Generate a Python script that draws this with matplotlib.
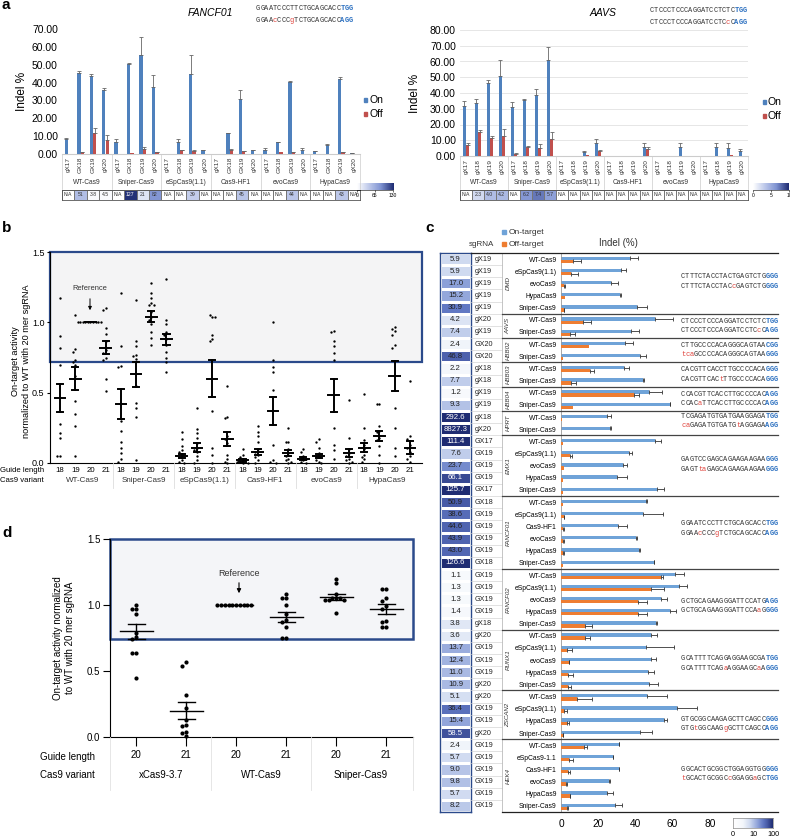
import matplotlib

matplotlib.use("Agg")

import matplotlib.pyplot as plt
import numpy as np
from matplotlib.colors import LinearSegmentedColormap, Normalize
from matplotlib.patches import Rectangle
from matplotlib.transforms import blended_transform_factory

# ---------------- panel a data ----------------
a_variants = ["WT-Cas9", "Sniper-Cas9", "eSpCas9(1.1)", "Cas9-HF1", "evoCas9", "HypaCas9"]
fancf_guides = ["gX17", "GX18", "GX19", "gX20"]
fancf_on = [8.5, 45.5, 43.5, 36.0, 6.5, 50.5, 55.5, 37.5, 0, 7.0, 45.0, 2.0,
            0, 11.5, 31.0, 2.0, 2.5, 6.5, 40.5, 2.5, 1.5, 5.0, 42.0, 0.5]
fancf_on_err = [0.5, 1.0, 1.5, 0.8, 2.0, 0.3, 10.0, 6.5, 0, 1.5, 10.5, 0.3,
                0, 0.3, 5.0, 0.3, 1.0, 0.5, 0.5, 1.0, 0.3, 0.5, 1.0, 0.2]
fancf_off = [0, 1.0, 11.5, 7.8, 0, 0.3, 3.0, 1.0, 0, 2.0, 1.5, 0,
             0, 2.5, 1.5, 0, 0, 1.0, 1.0, 0, 0, 0, 1.0, 0]
fancf_off_err = [0, 0.3, 3.3, 3.0, 0, 0, 0.8, 0.2, 0, 0.3, 0.8, 0,
                 0, 0.2, 0.3, 0, 0, 0, 0.2, 0, 0, 0, 0.2, 0]
fancf_heat = [None, 51, 3.8, 4.5, None, 127, 21, 82, None, None, 39, None,
              None, None, 45, None, None, None, 44, None, None, None, 43, None]

aavs_guides = ["gX17", "gX18", "gX19", "gX20"]
aavs_on = [32, 33.5, 46.5, 51, 31, 35.5, 38.5, 61, 0, 0, 2.5, 8,
           0, 0, 0, 5.5, 0, 0, 6, 0, 0, 6, 5, 3]
aavs_on_err = [3, 3, 1.5, 10, 3.5, 0.5, 4, 8.5, 0, 0, 0.5, 2.5,
               0, 0, 0, 3, 0, 0, 2.5, 0, 0, 2, 3.5, 1.5]
aavs_off = [7, 15, 11.5, 12.5, 1.5, 6, 5, 11, 0, 0, 0.5, 3,
            0, 0, 0, 4.5, 0, 0, 0, 0, 0, 0, 0.5, 0]
aavs_off_err = [1, 1.2, 1, 4.5, 0.3, 0.3, 2.5, 4.5, 0, 0, 0, 0.5,
                0, 0, 0, 1, 0, 0, 0, 0, 0, 0, 0, 0]
aavs_heat = [None, 2.3, 4.0, 4.2, None, 6.2, 7.4, 5.7, None, None, None, None,
             None, None, None, None, None, None, None, None, None, None, None, None]

# ---------------- panel b data ----------------
b_lengths = ["18", "19", "20", "21"]
b_points = [
    [1.17, 0.90, 0.82, 0.70, 0.28, 0.21, 0.18, 0.05, 0.05],
    [1.05, 0.81, 0.79, 0.73, 0.72, 0.70, 0.62, 0.44, 0.35, 0.26, 0.05],
    [1.0, 1.0, 1.0, 1.0, 1.0, 1.0, 1.0, 1.0, 1.0, 1.0],
    [1.10, 1.09, 0.96, 0.92, 0.87, 0.80, 0.78, 0.75, 0.73, 0.60, 0.51],
    [1.21, 0.83, 0.69, 0.68, 0.30, 0.23, 0.15, 0.11, 0.07, 0.03, 0.01],
    [1.16, 0.87, 0.83, 0.77, 0.76, 0.74, 0.55, 0.43, 0.39, 0.33, 0.02],
    [1.28, 1.21, 1.17, 1.14, 1.12, 1.12, 1.07, 1.04, 1.02, 0.99, 0.93, 0.89, 0.84],
    [1.31, 1.02, 0.99, 0.93, 0.91, 0.88, 0.84, 0.79, 0.75, 0.72, 0.65],
    [0.22, 0.17, 0.12, 0.09, 0.08, 0.06, 0.04, 0.02, 0.01, 0.0],
    [0.39, 0.24, 0.21, 0.18, 0.14, 0.11, 0.09, 0.08, 0.05, 0.02, 0.0],
    [1.04, 1.05, 1.04, 0.91, 0.88, 0.87, 0.37, 0.11, 0.06, 0.0],
    [0.55, 0.33, 0.32, 0.19, 0.17, 0.14, 0.06, 0.03, 0.01, 0.0],
    [0.10, 0.06, 0.04, 0.03, 0.02, 0.01, 0.01, 0.0, 0.0],
    [0.26, 0.22, 0.19, 0.15, 0.10, 0.08, 0.06, 0.04, 0.02, 0.0],
    [1.00, 0.73, 0.68, 0.65, 0.52, 0.13, 0.02, 0.01, 0.0],
    [0.25, 0.15, 0.15, 0.10, 0.07, 0.05, 0.03, 0.02, 0.01, 0.0],
    [0.10, 0.08, 0.05, 0.04, 0.03, 0.02, 0.01, 0.0],
    [0.17, 0.15, 0.11, 0.07, 0.05, 0.04, 0.02, 0.01, 0.0],
    [0.94, 0.93, 0.87, 0.83, 0.78, 0.73, 0.25, 0.13, 0.09, 0.03],
    [0.45, 0.18, 0.10, 0.07, 0.05, 0.03, 0.02, 0.01, 0.0],
    [0.49, 0.25, 0.16, 0.13, 0.10, 0.06, 0.04, 0.03, 0.01],
    [0.42, 0.42, 0.26, 0.23, 0.22, 0.18, 0.16, 0.12, 0.06, 0.0],
    [0.97, 0.95, 0.94, 0.91, 0.84, 0.82, 0.39, 0.25, 0.11, 0.05],
    [0.58, 0.19, 0.17, 0.13, 0.11, 0.08, 0.05, 0.03, 0.01],
]
b_mean = [0.46, 0.60, 1.00, 0.82, 0.42, 0.63, 1.04, 0.88, 0.05, 0.11, 0.60, 0.17,
          0.02, 0.08, 0.37, 0.07, 0.03, 0.05, 0.48, 0.07, 0.11, 0.19, 0.62, 0.11]
b_sem = [0.10, 0.08, 0.0, 0.045, 0.105, 0.09, 0.04, 0.04, 0.015, 0.03, 0.13, 0.05,
         0.01, 0.02, 0.10, 0.02, 0.01, 0.015, 0.115, 0.03, 0.035, 0.035, 0.105, 0.045]

# ---------------- panel d data ----------------
d_lengths = ["20", "21", "20", "21", "20", "21"]
d_variants = ["xCas9-3.7", "WT-Cas9", "Sniper-Cas9"]
d_points = [
    [1.00, 0.97, 0.97, 0.93, 0.79, 0.76, 0.74, 0.64, 0.64, 0.45],
    [0.57, 0.54, 0.32, 0.22, 0.13, 0.09, 0.08, 0.04, 0.03, 0.01],
    [1.0, 1.0, 1.0, 1.0, 1.0, 1.0, 1.0, 1.0, 1.0, 1.0],
    [1.08, 1.05, 1.05, 1.00, 0.93, 0.89, 0.87, 0.83, 0.75, 0.75],
    [1.20, 1.17, 1.08, 1.05, 1.05, 1.05, 1.04, 1.04, 1.04, 0.94],
    [1.12, 1.12, 1.05, 1.03, 0.99, 0.97, 0.88, 0.87, 0.83, 0.83],
]
d_mean = [0.80, 0.20, 1.00, 0.91, 1.06, 0.97]
d_sem = [0.055, 0.065, 0.0, 0.04, 0.02, 0.035]

# ---------------- panel c data ----------------
c_genes = ["DMD", "AAVS", "HBB02", "HBB03", "HBB04", "HPRT", "EMX1",
           "FANCF01", "FANCF02", "RUNX1", "ZSCAN2", "HEK4"]
c_sizes = [5, 2, 2, 2, 2, 2, 5, 6, 5, 5, 4, 6]
c_seqs = [
    ("CTTTCTACCTACTGAGTCTGGGG", "CTTTCTACCTACcGAGTCTGGGG"),
    ("CTCCCTCCCAGGATCCTCTCTGG", "CTCCCTCCCAGGATCCTCcCAGG"),
    ("CTTGCCCCACAGGGCAGTAACGG", "tcaGCCCCACAGGGCAGTAAGGG"),
    ("CACGTTCACCTTGCCCCACAGGG", "CACGTTCACtTTGCCCCACAGGG"),
    ("CCACGTTCACCTTGCCCCACAGG", "CCACaTTCACCTTGCCCCACAGG"),
    ("TCGAGATGTGATGAAGGAGATGG", "caGAGATGTGATGtAGGAGAAGG"),
    ("GAGTCCGAGCAGAAGAAGAAGGG", "GAGTtaGAGCAGAAGAAGAAGGG"),
    ("GGAATCCCTTCTGCAGCACCTGG", "GGAAcCCCgTCTGCAGCACCAGG"),
    ("GCTGCAGAAGGGATTCCATGAGG", "GCTGCAGAAGGGATTCCAaGGGG"),
    ("GCATTTTCAGGAGGAAGCGATGG", "GCATTTTCAGaAGGAAGCaAGGG"),
    ("GTGCGGCAAGAGCTTCAGCCGGG", "GTGtGGCAAGgGCTTCAGCCAGG"),
    ("GGCACTGCGGCTGGAGGTGGGGG", "tGCACTGCGGCcGGAGGaGCTGG"),
]
c_heat = [5.9, 5.9, 17.0, 15.2, 30.9,
          4.2, 7.4,
          2.4, 46.8,
          2.2, 7.7,
          1.2, 9.3,
          292.6, 8827.3,
          111.4, 7.6, 23.7, 66.1, 125.7,
          50.9, 38.6, 44.6, 43.9, 43.0, 126.6,
          1.1, 1.3, 1.3, 1.4, 3.8,
          3.6, 13.7, 12.4, 11.0, 10.9,
          5.1, 36.4, 15.4, 58.5,
          2.4, 5.7, 9.0, 9.8, 5.7, 8.2]
c_sgrna = ["gX19", "gX19", "gX19", "gX19", "gX19",
           "gX20", "gX19",
           "GX20", "GX20",
           "gX18", "gX18",
           "gX19", "gX19",
           "gX18", "gX20",
           "GX17", "GX19", "GX19", "GX19", "GX17",
           "GX18", "GX19", "GX19", "GX19", "GX19", "GX18",
           "GX19", "GX19", "GX19", "GX19", "gX18",
           "gX20", "GX19", "GX19", "GX19", "gX20",
           "gX20", "GX19", "GX19", "gX20",
           "GX19", "GX19", "GX19", "GX19", "GX19", "GX19"]
c_variant = ["WT-Cas9", "eSpCas9(1.1)", "evoCas9", "HypaCas9", "Sniper-Cas9",
             "WT-Cas9", "Sniper-Cas9",
             "WT-Cas9", "Sniper-Cas9",
             "WT-Cas9", "Sniper-Cas9",
             "WT-Cas9", "Sniper-Cas9",
             "WT-Cas9", "Sniper-Cas9",
             "WT-Cas9", "eSpCas9(1.1)", "evoCas9", "HypaCas9", "Sniper-Cas9",
             "WT-Cas9", "eSpCas9(1.1)", "Cas9-HF1", "evoCas9", "HypaCas9", "Sniper-Cas9",
             "WT-Cas9", "eSpCas9(1.1)", "evoCas9", "HypaCas9", "Sniper-Cas9",
             "WT-Cas9", "eSpCas9(1.1)", "evoCas9", "HypaCas9", "Sniper-Cas9",
             "WT-Cas9", "eSpCas9(1.1)", "HypaCas9", "Sniper-Cas9",
             "WT-Cas9", "eSpCas9-1.1", "Cas9-HF1", "evoCas9", "HypaCas9", "Sniper-Cas9"]
c_on = [37, 32, 27, 31.5, 41,
        50.4, 37.7,
        34.3, 42.7,
        34.1, 44,
        47.4, 58.5,
        24.8, 26.5,
        50.4, 36.8, 33.4, 30.1, 51.7,
        45.9, 44, 30.7, 40.2, 42.2, 49.9,
        61.5, 63.5, 53.5, 58.7, 51.3,
        48.4, 45.7, 48.6, 47, 47.5,
        46.3, 62.4, 55.2, 42.7,
        31, 27.8, 31, 26, 24.8, 29.2]
c_on_err = [4.3, 3, 3.4, 0.5, 5.4,
            9.7, 4.1,
            4.5, 3,
            2.5, 0.5,
            7, 0.3,
            2.3, 0.3,
            3.2, 1.4, 2.2, 5.2, 3.6,
            0.4, 10.8, 4.8, 0.5, 0.5, 0.3,
            4.8, 4.3, 3.4, 2.9, 0.3,
            3, 15.2, 2.3, 2.9, 4.7,
            10.6, 10.8, 1.6, 6.1,
            0.3, 0.3, 0.3, 0.3, 3.2, 3.6]
c_off = [6.3, 5.4, 1.8, 2, 1.4,
         11.8, 4.7,
         14.9, 0.9,
         15.8, 5.6,
         39, 6.3,
         0.3, 0.2,
         0.9, 5, 1.8, 1.1, 0.9,
         0.9, 1.4, 1.3, 1.2, 1.2, 0.9,
         54, 48.4, 41.3, 41.4, 13.1,
         13.1, 3.2, 4.1, 3.8, 3.8,
         8.6, 1.8, 3.2, 1.1,
         12.6, 4.5, 3.6, 2.7, 4.7, 3.2]
c_off_err = [4.5, 3.6, 0.3, 0, 0.4,
             4.5, 2.7,
             0, 0,
             2, 2.2,
             2.7, 0,
             0, 0,
             0, 1, 0, 0, 0,
             0, 0.3, 0.3, 0.3, 0.3, 0,
             1.1, 6.8, 4.7, 4.8, 3.6,
             2.3, 2.7, 0.3, 2.5, 1.4,
             7.9, 1.4, 1.3, 0.2,
             1.4, 1.8, 1.1, 0.3, 0.3, 0.4]

# ---------------- style ----------------
W, H = 790, 839
BLUE_A = "#4f81bd"
RED_A = "#c0504d"
C_ON = "#6fa3d8"
C_OFF = "#ee7d31"
PAM = "#2a6fc0"
MIS = "#e0413a"
NAVY = "#2b4a8b"
# vertical shift of each gene's sequence pair in panel c (pixels)
SEQ_SHIFT = [-2, 0, 0, 0, 0, -2, -1, -4, 6.5, 3.5, 9, -1.5]

heat_cmap = LinearSegmentedColormap.from_list(
    "heat_c", [(0, "#ffffff"), (0.25, "#f3f6fb"), (0.42, "#cfdaf0"), (0.62, "#8ea2d9"),
               (0.75, "#6279c4"), (0.85, "#4a5eaa"), (1.0, "#1f2c72")])
heat_cmap.set_bad("white")
lin_cmap = LinearSegmentedColormap.from_list(
    "heat_a", [(0, "#ffffff"), (0.35, "#b8c4e8"), (0.65, "#7f93d2"), (1.0, "#1f2c72")])
lin_cmap.set_bad("white")

plt.rcParams.update({
    "font.family": ["Liberation Sans", "DejaVu Sans"],
    "font.size": 6,
    "axes.linewidth": 0.8,
})

fig = plt.figure(figsize=(W / 100, H / 100), dpi=100)
fig.patch.set_facecolor("white")


def add_ax(x0, y0, x1, y1):
    return fig.add_axes([x0 / W, 1 - y1 / H, (x1 - x0) / W, (y1 - y0) / H])


over = add_ax(0, 0, W, H)
over.set_xlim(0, W)
over.set_ylim(H, 0)
over.axis("off")
over.set_zorder(10)


def draw_seq(x, y, seq, fs=5.0, cw=4.22):
    n = len(seq)
    for i, ch in enumerate(seq):
        if i >= n - 3:
            col, wt = PAM, "bold"
        elif ch.islower():
            col, wt = MIS, "normal"
        else:
            col, wt = "#333333", "normal"
        over.text(x + i * cw, y, ch, fontsize=fs, color=col, fontweight=wt,
                  family="Liberation Mono", ha="left", va="center")


def swarm(vals, dy, step):
    placed, offs = [], []
    for v in vals:
        for k in [0, -1, 1, -2, 2, -3, 3, -4, 4, -5, 5, -6, 6]:
            if all(abs(v - pv) >= dy or pk != k for pv, pk in placed):
                break
        placed.append((v, k))
        offs.append(k * step)
    return np.array(offs)


# ---------------- panel a ----------------
def panel_a(x0, x1, ytop, ybot, ymax, guides, on, on_err, off, off_err,
            heat, hmax, fmt, grid, title, title_x, seqs, seq_x, seq_y,
            ylab_x, cb_x0, leg_x, leg_y):
    ax = add_ax(x0, ytop, x1, ybot)
    n = len(on)
    x = np.arange(n)
    ax.bar(x - 0.14, on, 0.27, color=BLUE_A, zorder=3)
    ax.bar(x + 0.14, off, 0.27, color=RED_A, zorder=3)
    for xs, vals, errs in ((x - 0.14, on, on_err), (x + 0.14, off, off_err)):
        vals, errs = np.asarray(vals, float), np.asarray(errs, float)
        m = errs > 0
        ax.errorbar(xs[m], vals[m], yerr=[np.zeros(m.sum()), errs[m]], fmt="none",
                    ecolor="#666666", elinewidth=0.6, capsize=1.2, capthick=0.6, zorder=4)
    ax.set_xlim(-0.5, n - 0.5)
    ax.set_ylim(0, ymax)
    ax.set_yticks(np.arange(0, ymax + 1, 10))
    ax.set_yticklabels([f"{v:.2f}" for v in np.arange(0, ymax + 1, 10)], fontsize=7.5)
    ax.set_xticks([])
    ax.tick_params(axis="y", length=0, pad=3)
    for s in ("top", "right", "left"):
        ax.spines[s].set_visible(False)
    ax.spines["bottom"].set_color("#cccccc")
    if grid:
        ax.grid(axis="y", color="#e2e2e2", lw=0.6, zorder=0)
    ax.set_axisbelow(True)

    colw = (x1 - x0) / n
    for i in range(n):
        cx = x0 + (i + 0.5) * colw
        over.text(cx, ybot + 3, guides[i % 4], rotation=90, ha="center", va="top",
                  fontsize=4.6, color="#333333")
    for g in range(7):
        gx = x0 + g * 4 * colw
        over.plot([gx, gx], [ybot, 189], color="#cccccc", lw=0.5)
    for g, name in enumerate(a_variants):
        over.text(x0 + (g * 4 + 2) * colw, 182, name, ha="center", va="center",
                  fontsize=4.8, color="#333333")

    hx = add_ax(x0, 190, x1, 200)
    hv = np.ma.masked_invalid(np.array([[np.nan if v is None else v for v in heat]], float))
    norm = Normalize(0, hmax)
    hx.pcolormesh(hv, cmap=lin_cmap, norm=norm, edgecolors="#777777", linewidth=0.5)
    hx.set_xlim(0, n)
    hx.set_ylim(0, 1)
    hx.set_xticks([])
    hx.set_yticks([])
    for s in hx.spines.values():
        s.set_color("#555555")
        s.set_linewidth(0.6)
    for i, v in enumerate(heat):
        if v is None:
            hx.text(i + 0.5, 0.5, "N/A", ha="center", va="center", fontsize=3.7, color="#333333")
        else:
            c = "white" if norm(v) > 0.8 else "#333333"
            hx.text(i + 0.5, 0.5, fmt.format(v), ha="center", va="center", fontsize=3.7, color=c)

    cb = add_ax(cb_x0, 183, cb_x0 + 36, 190)
    cb.imshow(np.linspace(0, hmax, 100)[None, :], cmap=lin_cmap, aspect="auto",
              extent=[0, hmax, 0, 1], norm=norm)
    cb.set_yticks([])
    cb.set_xticks([0, hmax / 2, hmax])
    cb.set_xticklabels([f"{v:g}" for v in (0, hmax / 2, hmax)], fontsize=3.6)
    cb.tick_params(axis="x", length=1.5, width=0.4, pad=1)
    for s in ("top", "right", "left"):
        cb.spines[s].set_visible(False)
    cb.spines["bottom"].set_linewidth(0.4)

    over.text(title_x, 13, title, fontsize=7.5, style="italic", ha="center", va="center")
    draw_seq(seq_x, seq_y[0], seqs[0])
    draw_seq(seq_x, seq_y[1], seqs[1])
    over.text(ylab_x, (ytop + ybot) / 2, "Indel %", rotation=90, ha="center",
              va="center", fontsize=8.5)
    over.add_patch(Rectangle((leg_x, leg_y - 2), 3, 4, color=BLUE_A))
    over.text(leg_x + 5, leg_y, "On", fontsize=7.5, va="center")
    over.add_patch(Rectangle((leg_x, leg_y + 12), 3, 4, color=RED_A))
    over.text(leg_x + 5, leg_y + 14, "Off", fontsize=7.5, va="center")


panel_a(62, 360, 29, 154, 70, fancf_guides, fancf_on, fancf_on_err, fancf_off,
        fancf_off_err, fancf_heat, 130, "{:g}", False, "FANCF01", 210,
        c_seqs[7], 256, (8, 21), 22, 357, 364, 100)
panel_a(460, 748, 30, 156, 80, aavs_guides, aavs_on, aavs_on_err, aavs_off,
        aavs_off_err, aavs_heat, 10, "{:.1f}", True, "AAVS", 603,
        c_seqs[1], 650, (10, 22), 415, 753, 763, 102)

# ---------------- panel b ----------------
axb = add_ax(50, 252, 422, 463)
axb.set_xlim(-0.66, 23.8)
axb.set_ylim(0, 1.5)
trb = blended_transform_factory(axb.transAxes, axb.transData)
axb.add_patch(Rectangle((0, 0.72), 1, 0.78, transform=trb, facecolor="#f4f4f5",
                        edgecolor=NAVY, lw=1.6, zorder=0, clip_on=False))
for i, pts in enumerate(b_points):
    pts = np.asarray(pts)
    axb.plot(i + swarm(pts, 0.03, 0.17), pts, "o", ms=1.7, color="black",
             mec="none", zorder=3, clip_on=False)
    m, s = b_mean[i], b_sem[i]
    axb.plot([i - 0.35, i + 0.35], [m, m], color="black", lw=1.4, zorder=4)
    if s > 0:
        axb.plot([i, i], [m - s, m + s], color="black", lw=1.4, zorder=4)
        for yv in (m - s, m + s):
            axb.plot([i - 0.2, i + 0.2], [yv, yv], color="black", lw=1.4, zorder=4)
axb.set_yticks([0, 0.5, 1.0, 1.5])
axb.set_yticklabels(["0.0", "0.5", "1.0", "1.5"], fontsize=6.5)
axb.set_xticks(np.arange(24))
axb.set_xticklabels(b_lengths * 6, fontsize=5.6)
axb.tick_params(axis="x", length=0, pad=3)
axb.tick_params(axis="y", length=2.5, width=0.8, pad=1.5)
for s in ("top", "right"):
    axb.spines[s].set_visible(False)
axb.spines["left"].set_zorder(5)

unit_b = 372 / 24.46
for g in range(6):
    over.text(50 + (0.66 + 4 * g + 1.5) * unit_b, 481, a_variants[g], ha="center",
              va="center", fontsize=5.8, color="#333333")
    if g > 0:
        gx = 50 + (0.66 + 4 * g - 0.5) * unit_b
        over.plot([gx, gx], [463, 488], color="#dddddd", lw=0.6)
over.text(44, 470, "Guide length", ha="right", va="center", fontsize=5.6)
over.text(44, 481, "Cas9 variant", ha="right", va="center", fontsize=5.6)
over.text(21, 361, "On-target activity\nnormalized to WT with 20 mer sgRNA", rotation=90,
          ha="center", va="center", fontsize=6.6, linespacing=1.2)
over.text(90, 289, "Reference", ha="center", va="center", fontsize=5.4, color="#333333")
over.annotate("", xy=(90, 313), xytext=(90, 296),
              arrowprops=dict(arrowstyle="-|>", lw=0.7, color="black", mutation_scale=5))

# ---------------- panel d ----------------
axd = add_ax(110, 539, 413, 737)
axd.set_xlim(-0.52, 5.54)
axd.set_ylim(0, 1.5)
trd = blended_transform_factory(axd.transAxes, axd.transData)
axd.add_patch(Rectangle((0, 0.74), 1, 0.76, transform=trd, facecolor="#f4f5f8",
                        edgecolor=NAVY, lw=1.8, zorder=0, clip_on=False))
for i, pts in enumerate(d_points):
    pts = np.asarray(pts)
    axd.plot(i + swarm(pts, 0.03, 0.075), pts, "o", ms=3.0, color="black",
             mec="none", zorder=3, clip_on=False)
    m, s = d_mean[i], d_sem[i]
    axd.plot([i - 0.33, i + 0.33], [m, m], color="black", lw=1.0, zorder=4)
    if s > 0:
        axd.plot([i, i], [m - s, m + s], color="black", lw=1.0, zorder=4)
        for yv in (m - s, m + s):
            axd.plot([i - 0.17, i + 0.17], [yv, yv], color="black", lw=1.0, zorder=4)
axd.set_yticks([0, 0.5, 1.0, 1.5])
axd.set_yticklabels(["0.0", "0.5", "1.0", "1.5"], fontsize=7)
axd.set_xticks(np.arange(6))
axd.set_xticklabels(d_lengths, fontsize=7)
axd.tick_params(axis="x", length=6.5, width=0.8, pad=3)
axd.tick_params(axis="y", length=5, width=0.8, pad=2)
for s in ("top", "right"):
    axd.spines[s].set_visible(False)
axd.spines["left"].set_zorder(5)
for gx in (110, 211, 311, 413):
    over.plot([gx, gx], [737, 790], color="#e2e2e2", lw=0.6)
for g, name in enumerate(d_variants):
    over.text(136 + (2 * g + 0.5) * 50, 775, name, ha="center", va="center", fontsize=7)
over.text(95, 757, "Guide length", ha="right", va="center", fontsize=7)
over.text(95, 775, "Cas9 variant", ha="right", va="center", fontsize=7)
over.text(64, 638, "On-target activity normalized\nto WT with 20 mer sgRNA", rotation=90,
          ha="center", va="center", fontsize=7, linespacing=1.2)
over.text(239, 573, "Reference", ha="center", va="center", fontsize=6.5, color="#333333")
over.annotate("", xy=(239, 596), xytext=(239, 580),
              arrowprops=dict(arrowstyle="-|>", lw=0.8, color="black", mutation_scale=6))

# ---------------- panel c ----------------
nrow = len(c_heat)
top_c, bot_c = 253, 812
rh = (bot_c - top_c) / nrow
rows = np.arange(nrow)


def heat_norm(v):
    return np.clip(np.log10(np.asarray(v, float) + 1) / np.log10(101), 0, 1)


hc = add_ax(440, top_c, 471, bot_c)
hc.pcolormesh(heat_norm(c_heat)[:, None], cmap=heat_cmap, vmin=0, vmax=1,
              edgecolors="white", linewidth=0.8)
hc.set_ylim(nrow, 0)
hc.set_xlim(0, 1)
hc.set_xticks([])
hc.set_yticks([])
for s in hc.spines.values():
    s.set_color(NAVY)
    s.set_linewidth(1.0)
for i, v in enumerate(c_heat):
    col = "white" if heat_norm(v) > 0.87 else "#222222"
    hc.text(0.5, i + 0.5, f"{v:.1f}", ha="center", va="center", fontsize=5.6, color=col)

axc = add_ax(561, top_c, 778, bot_c)
axc.barh(rows + 0.44, c_on, height=0.27, color=C_ON, zorder=2)
axc.barh(rows + 0.69, c_off, height=0.27, color=C_OFF, zorder=3)
for ys, vals, errs in ((rows + 0.44, c_on, c_on_err), (rows + 0.69, c_off, c_off_err)):
    vals, errs = np.asarray(vals, float), np.asarray(errs, float)
    m = errs > 0
    axc.errorbar(vals[m], ys[m], xerr=[np.zeros(m.sum()), errs[m]], fmt="none",
                 ecolor="#333333", elinewidth=0.6, capsize=1.3, capthick=0.6, zorder=4)
axc.set_xlim(0, 217 / 37.2 * 20)
axc.set_ylim(nrow, 0)
axc.set_yticks(rows + 0.5)
axc.set_yticklabels(c_variant, fontsize=4.9)
axc.set_xticks([0, 20, 40, 60, 80])
axc.set_xticklabels(["0", "20", "40", "60", "80"], fontsize=7.3)
axc.tick_params(axis="both", length=0)
axc.tick_params(axis="y", pad=3)
axc.tick_params(axis="x", pad=5)
for s in ("top", "right", "bottom"):
    axc.spines[s].set_visible(False)
axc.spines["left"].set_color("#999999")
axc.spines["left"].set_linewidth(0.6)

for i, sg in enumerate(c_sgrna):
    yc = top_c + (i + 0.5) * rh
    over.text(475, yc, sg, ha="left", va="center", fontsize=5.2, color="#222222")
    if i > 0:
        over.plot([471, 502], [top_c + i * rh] * 2, color="#d5d5d5", lw=0.5)
over.plot([502, 502], [top_c, bot_c], color="#bbbbbb", lw=0.6)
start = 0
for gname, size, seqs, shift in zip(c_genes, c_sizes, c_seqs, SEQ_SHIFT):
    yc = top_c + (start + size / 2) * rh
    over.text(508, yc, gname, rotation=90, ha="center", va="center", fontsize=4.4,
              style="italic", color="#333333")
    draw_seq(681, yc + shift - 4.7, seqs[0])
    draw_seq(681, yc + shift + 4.7, seqs[1])
    if start > 0:
        over.plot([502, 778], [top_c + start * rh] * 2, color="#444444", lw=0.9)
    start += size
over.plot([471, 778], [top_c, top_c], color="#222222", lw=0.9)
over.plot([502, 778], [bot_c, bot_c], color="#222222", lw=0.9)

over.add_patch(Rectangle((502, 230), 3.5, 3.5, color=C_ON))
over.text(509, 232, "On-target", fontsize=6, va="center", color="#333333")
over.add_patch(Rectangle((502, 242), 3.5, 3.5, color=C_OFF))
over.text(509, 244, "Off-target", fontsize=6, va="center", color="#333333")
over.text(469, 244, "sgRNA", fontsize=5.8, va="center", color="#333333")
over.text(618, 243, "Indel (%)", fontsize=7, ha="center", va="center", color="#333333")

cbc = add_ax(733, 818, 773, 828)
cbc.imshow(np.linspace(0, 1, 100)[None, :], cmap=heat_cmap, aspect="auto", extent=[0, 1, 0, 1])
cbc.set_yticks([])
cbc.set_xticks(heat_norm([0, 10, 100]))
cbc.set_xticklabels(["0", "10", "100"], fontsize=5.2)
cbc.tick_params(axis="x", length=0, pad=2)
for s in cbc.spines.values():
    s.set_color("#888888")
    s.set_linewidth(0.5)

# ---------------- panel letters ----------------
for lab, x, y in (("a", 2, 5), ("b", 2, 228), ("c", 425, 228), ("d", 2, 533)):
    over.text(x, y, lab, fontsize=11, fontweight="bold", ha="left", va="center")

fig.savefig("out.png", dpi=100)
